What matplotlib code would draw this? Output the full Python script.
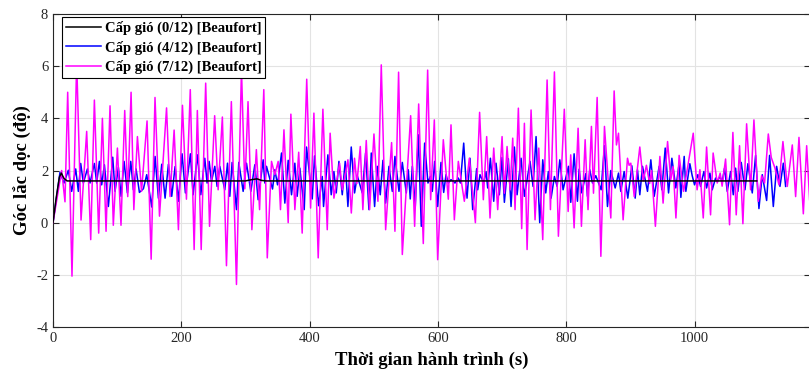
import matplotlib
matplotlib.use("Agg")
import matplotlib.pyplot as plt

plt.rcParams["font.family"] = ["Liberation Serif", "DejaVu Serif"]
plt.rcParams["axes.unicode_minus"] = False

# Beaufort 0/12: near-constant response
t_b0 = [0, 5, 10, 13, 17, 22, 30, 300, 310, 318, 325, 332, 1097]
v_b0 = [0, 0.95, 1.75, 1.9, 1.7, 1.6, 1.6, 1.6, 1.65, 1.68, 1.62, 1.6, 1.6]

# Beaufort 4/12: extremes
t_b4 = [0, 10.9, 17.2, 23.9, 29.1, 35.4, 39.5, 43.2, 47.3, 53.6, 57.7, 64.5, 68.1, 72.3, 75.9,
        80.1, 86.3, 93.1, 96.7, 101.9, 106.1, 110.8, 116.0, 121.2, 125.3, 129.5, 134.7, 140.9,
        146.1, 153.9, 159.1, 164.3, 169.5, 174.7, 179.9, 185.1, 190.3, 195.5,
        201.2, 206.4, 214.2, 218.4, 225.2, 230.4, 236.6, 240.2, 243.4, 247.0, 252.2, 255.8, 260.0,
        267.8, 272.0, 275.6, 279.2, 286.0, 289.6, 296.4, 301.6, 308.4, 314.6, 319.8, 327.6, 330.2,
        332.8, 342.2, 345.8, 350.0, 356.2, 361.4, 366.6, 371.8, 377.0, 380.6, 384.8, 391.6, 395.2,
        404.1, 407.7, 414.0, 419.7, 421.7, 428.5, 433.7, 437.9, 441.5, 445.7, 450.9, 455.5, 459.7,
        464.9, 470.1, 474.3, 482.1, 487.3, 492.5, 496.1, 501.3, 505.5, 510.1, 514.3, 518.5, 523.7,
        528.9, 533.0, 539.3, 544.5, 550.7, 553.8, 556.9, 560.1, 564.7, 569.4, 574.1, 579.3, 584.5,
        588.1, 591.3, 594.9,
        599.6, 604.8, 609.0, 612.6, 616.2, 620.4, 626.6, 631.8, 635.0, 640.2, 645.4, 650.0, 654.2,
        660.4, 662.0, 665.6, 671.4, 675.0, 677.6, 681.8, 687.0, 690.6, 695.8, 700.0, 703.6, 709.8,
        714.0, 719.2, 723.4, 729.6, 734.8, 743.6, 748.3, 753.0, 758.7, 763.4, 768.1, 772.2, 776.4,
        781.6, 785.8, 790.0, 795.1,
        803.5, 807.1, 812.3, 817.5, 820.1, 824.3, 830.5, 833.1, 836.7, 840.9, 846.1, 854.4, 859.6,
        864.3, 869.5, 876.3, 881.5, 885.1, 890.3, 896.0, 902.3, 907.5, 911.1, 914.7, 918.9, 926.7,
        931.9, 937.1, 944.9, 949.1, 954.3, 959.5, 964.7, 970.9, 976.1, 978.7, 983.9, 986.5, 992.7,
        996.4, 1000.0, 1005.2, 1009.4, 1014.6, 1018.8, 1024.0, 1027.6, 1032.8, 1035.4, 1039.6,
        1043.2, 1046.8, 1051.0, 1056.2, 1060.4, 1064.0, 1067.6, 1072.8, 1078.6, 1083.2, 1090.0,
        1095.2, 1100.4, 1105.6, 1112.4, 1117.0, 1122.8, 1128.0, 1133.2, 1138.4, 1142.0]
v_b4 = [0, 1.93, 1.52, 2.01, 1.20, 2.06, 1.20, 2.27, 1.52, 2.06, 1.52, 2.27, 1.52, 2.35, 1.45,
        2.22, 0.62, 2.51, 1.20, 2.12, 1.01, 2.35, 1.14, 2.35, 1.26, 2.06, 1.16, 1.30,
        1.84, 0.60, 2.54, 0.94, 2.24, 0.94, 2.24, 1.01, 2.15, 0.82,
        2.64, 1.14, 2.64, 1.07, 2.60, 1.07, 2.47, 1.52, 2.35, 1.58, 2.16, 1.39, 2.16,
        1.26, 2.28, 1.01, 2.31, 0.50, 2.31, 1.20, 2.28, 1.20, 2.22, 0.88, 2.41, 1.52,
        2.16, 1.29, 2.03, 1.45, 2.67, 0.75, 2.39, 1.07, 2.28, 1.01, 2.09, 0.50, 2.90,
        0.91, 2.56, 0.65, 1.77, 0.62, 2.60, 1.07, 1.96, 1.14, 2.35, 1.07, 2.35, 0.62,
        2.90, 1.14, 1.80, 1.14, 2.67, 0.50, 2.67, 0.62, 2.16, 1.07, 2.39, 0.75, 2.16,
        1.20, 2.54, 1.20, 2.31, 1.14, 2.03, 0.91, 2.16, 0.62, 3.37, -0.14, 3.05, 1.52,
        1.77, 1.20, 2.35,
        0.62, 2.31, 1.16, 1.84, 1.52, 1.65, 1.52, 1.71, 1.52, 3.05, 0.94, 2.47, 0.50,
        2.07, 1.26, 1.84, 1.52, 1.96, 1.33, 2.47, 0.82, 2.28, 1.07, 2.50, 0.78, 2.45,
        0.62, 2.90, 1.07, 2.47, 1.01, 2.35, 1.39, 3.30, 0.00, 2.41, 1.14, 1.96, 0.94,
        1.77, 1.39, 2.41, 1.26,
        2.16, 0.78, 2.64, 0.82, 2.05, 1.14, 1.88, 1.01, 2.03, 1.52, 1.80, 1.26, 2.95,
        0.62, 2.00, 1.33, 1.90, 1.20, 1.96, 0.94, 2.18, 0.94, 2.03, 1.07, 2.16, 1.20,
        2.41, 1.01, 2.16, 1.26, 2.86, 1.14, 2.47, 1.33, 2.28, 0.97, 2.54, 1.20, 2.26,
        1.80, 1.45, 1.84, 1.39, 1.96, 1.33, 1.90, 1.26, 1.71, 1.58, 1.77,
        1.58, 2.09, 1.20, 1.96, 1.07, 2.09, 1.20, 2.31, 1.26, 2.26, 1.14,
        2.58, 0.54, 1.84, 0.85, 2.58, 0.62, 2.16, 1.39, 2.28, 1.39]

# Beaufort 7/12: extremes
t_b7 = [0, 13.5, 18.7, 22.9, 29.6, 36.9, 43.7, 52.5, 58.8, 64.5, 71.2, 77.0, 82.7, 88.9, 94.0,
        100.4, 106.0, 111.8, 116.5, 121.7, 126.0, 131.6, 138.0, 146.6, 153.0, 159.0, 166.0, 177.0,
        182.5, 188.8, 195.5,
        201.8, 208.0, 214.0, 220.0, 225.0, 231.0, 238.0, 244.0, 252.0, 257.4, 264.0, 270.4, 278.0,
        286.0, 293.8, 299.0, 304.0, 310.0, 317.0, 322.0, 328.6, 334.0, 340.6, 345.8, 351.0, 354.6,
        360.0, 366.6, 370.8, 377.0, 383.0, 388.4, 395.5,
        401.5, 406.7, 413.4, 420.7, 427.5, 432.0, 437.9, 446.7, 450.9, 459.7, 465.0, 470.0, 473.7,
        479.0, 483.0, 488.3, 493.5, 500.3, 506.5, 511.7, 518.5, 527.8, 533.0, 538.7, 544.5, 557.5,
        563.7, 570.0, 577.2, 584.0, 588.7, 594.4,
        599.6, 608.4, 616.2, 620.4, 625.6, 631.8, 641.2, 649.0, 658.4, 665.0, 670.8, 676.0, 681.2,
        687.0, 693.2, 700.0, 703.6, 707.8, 712.5, 716.6, 720.2, 725.4, 730.6, 734.8, 739.0, 745.2,
        751.4, 757.2, 763.4, 770.2, 775.4, 781.6, 787.8, 797.0,
        803.0, 807.0, 812.3, 818.5, 823.7, 829.5, 834.0, 839.3, 842.5, 848.2, 854.0, 859.6, 869.5,
        874.7, 878.3, 881.5, 888.7, 895.5, 898.0, 900.7, 906.0, 914.7, 920.0, 925.0, 930.0, 933.0,
        939.0, 946.0, 951.0, 958.0, 963.0, 966.7, 971.0, 976.0, 983.0, 998.0,
        1004.0, 1008.4, 1013.6, 1018.8, 1025.0, 1029.0, 1035.4, 1040.0, 1043.0, 1048.4, 1054.6,
        1059.8, 1065.0, 1070.2, 1075.4, 1081.2, 1087.4, 1092.6, 1099.4, 1104.6, 1109.2, 1115.0,
        1119.6, 1125.4, 1131.6, 1137.8, 1144.6, 1152.4, 1157.6, 1162.8, 1169.6, 1174.8, 1179.4]
v_b7 = [0, 2.0, 0.8, 5.0, -2.05, 6.2, 0.1, 3.5, -0.65, 4.7, -0.4, 4.0, -0.33, 4.48, -0.1,
        2.86, -0.1, 4.3, 1.0, 5.0, 0.5, 3.3, 1.2, 3.9, -1.4, 4.8, 0.25, 4.4,
        1.0, 3.55, -0.27,
        4.5, 0.9, 5.1, -1.03, 4.3, -1.03, 5.35, -0.14, 4.1, 1.26, 4.05, -1.65, 4.64,
        -2.37, 5.9, 1.3, 4.64, -0.27, 2.8, 0.5, 5.1, -1.35, 2.35, 1.84, 2.35, 0.5,
        3.56, 0.0, 4.16, 0.5, 2.7, -0.4, 5.5,
        0.56, 4.2, -1.35, 4.35, -0.27, 3.43, 0.94, 2.28, 1.26, 2.41, 0.37, 2.47, 1.5,
        2.92, 0.5, 3.15, 0.5, 3.4, 0.82, 6.05, -0.27, 3.07, -0.33, 5.77, -1.22, 4.1,
        -0.14, 4.55, -0.8, 5.85, 0.88, 3.94,
        -1.42, 3.18, 0.9, 3.75, 0.11, 2.35, 0.82, 2.47, 0.0, 4.23, 0.88, 3.3, 0.18,
        2.86, 0.5, 3.3, 1.13, 2.92, 1.26, 3.24, 0.5, 4.39, -0.23, 3.81, -1.03, 4.32,
        0.11, 2.86, -0.65, 5.47, 0.5, 5.78, -0.52, 4.35,
        0.43, 2.6, -0.2, 3.62, -0.14, 3.18, 0.5, 3.69, 1.13, 4.8, -1.29, 3.69, 0.18,
        5.05, 2.98, 3.43, 0.11, 2.47, 2.2, 2.28, 1.0, 2.9, 1.6, 2.2, 1.5, 2.0,
        -0.14, 2.54, 0.75, 3.11, 1.65, 2.15, 0.18, 2.58, 1.2, 3.43,
        1.26, 2.03, 0.18, 2.9, 0.3, 2.67, 1.52, 1.9, 1.4, 2.44, -0.08,
        3.46, 0.3, 2.95, -0.04, 3.79, 1.26, 3.94, 0.82, 1.8, 1.52, 3.4,
        2.5, 2.09, 1.45, 3.11, 1.39, 2.98, 1.0, 3.27, 0.34, 2.95, 0.88]

labels = ["Cấp gió (0/12) [Beaufort]", "Cấp gió (4/12) [Beaufort]", "Cấp gió (7/12) [Beaufort]"]
x_ticks = [0, 200, 400, 600, 800, 1000]
y_ticks = [-4, -2, 0, 2, 4, 6, 8]

fig = plt.figure(figsize=(8.09, 3.78), dpi=100)
ax = fig.add_axes([53 / 809, 1 - 327 / 378, 757 / 809, 313 / 378])

ax.plot(t_b0, v_b0, color="black", lw=1.1, label=labels[0], zorder=4)
ax.plot(t_b4, v_b4, color="#0000ff", lw=1.1, label=labels[1], zorder=2)
ax.plot(t_b7, v_b7, color="#ff00ff", lw=1.1, label=labels[2], zorder=3)

ax.set_xlim(0, 1180)
ax.set_ylim(-4, 8)
ax.set_xticks(x_ticks)
ax.set_yticks(y_ticks)
ax.tick_params(direction="in", top=True, right=True, length=4, width=0.8,
               labelsize=10.5, colors="#262626")
ax.grid(True, color="#e3e3e3", lw=0.8, zorder=0)
ax.set_axisbelow(True)
for s in ax.spines.values():
    s.set_color("#262626")
    s.set_linewidth(0.8)

ax.set_xlabel("Thời gian hành trình (s)", fontsize=13.5, fontweight="bold", labelpad=5)
ax.set_ylabel("Góc lắc dọc (độ)", fontsize=13.5, fontweight="bold", labelpad=4)

leg = ax.legend(loc="upper left", bbox_to_anchor=(9 / 757, 1 - 3 / 313),
                prop={"weight": "bold", "size": 10.5},
                frameon=True, fancybox=False, edgecolor="black", framealpha=1,
                borderpad=0.25, labelspacing=0.38, handlelength=2.4, handletextpad=0.3,
                borderaxespad=0)
leg.get_frame().set_linewidth(0.8)

fig.savefig("out.png", dpi=100)
